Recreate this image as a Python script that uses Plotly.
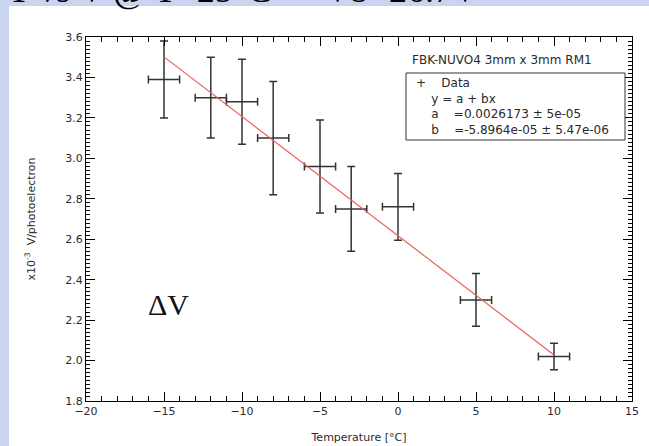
import plotly.graph_objects as go

# ---- data (y in units of 1e-3 V/photoelectron) ----
temperature = [-15, -12, -10, -8, -5, -3, 0, 5, 10]
gain = [3.39, 3.30, 3.28, 3.10, 2.96, 2.75, 2.76, 2.30, 2.02]
temp_err = [1, 1, 1, 1, 1, 1, 1, 1, 1]
gain_err = [0.19, 0.20, 0.21, 0.28, 0.23, 0.21, 0.165, 0.13, 0.065]
fit_a = 2.6173      # x1e-3
fit_b = -0.058964   # x1e-3 per degC
fit_range = [-15, 10]

legend_title = "FBK-NUVO4 3mm x 3mm RM1"
legend_rows = [("+", "Data"), ("", "y = a + bx"), ("", "a\u00a0\u00a0\u00a0\u00a0=0.0026173 \u00b1 5e-05"),
               ("", "b\u00a0\u00a0\u00a0\u00a0=-5.8964e-05 \u00b1 5.47e-06")]

W, H = 649, 446
L, R, T, B = 86, 17, 37, 45
pw, ph = W - L - R, H - T - B

def px(x):  # pixel -> paper x
    return (x - L) / pw

def py(y):  # pixel (from top) -> paper y
    return (H - B - y) / ph

fig = go.Figure()

fig.add_trace(go.Scatter(
    x=temperature, y=gain, mode="markers",
    marker=dict(size=1, color="rgba(0,0,0,0)"),
    error_x=dict(type="data", array=temp_err, color="#333333", thickness=1.5, width=4),
    error_y=dict(type="data", array=gain_err, color="#333333", thickness=1.5, width=4),
    showlegend=False, hoverinfo="skip"))

fit_y = [fit_a + fit_b * t for t in fit_range]
fig.add_trace(go.Scatter(x=fit_range, y=fit_y, mode="lines",
                         line=dict(color="#e8605c", width=1.2),
                         showlegend=False, hoverinfo="skip"))

font_sans = "DejaVu Sans"
txt_col = "#2a2a2a"
axis_common = dict(showline=True, linecolor="black", linewidth=1, mirror="allticks",
                   ticks="inside", tickcolor="black", ticklen=9, tickwidth=1,
                   showgrid=False, zeroline=False, automargin=False,
                   tickfont=dict(family=font_sans, size=11, color=txt_col))

fig.update_xaxes(range=[-20, 15], dtick=5, tick0=-20,
                 minor=dict(ticks="inside", dtick=1, ticklen=5, tickcolor="black", showgrid=False),
                 title=dict(text="Temperature [\u00b0C]", font=dict(family=font_sans, size=11, color=txt_col),
                            standoff=16),
                 **axis_common)
fig.update_yaxes(range=[1.8, 3.6], dtick=0.2, tick0=1.8, tickformat=".1f",
                 minor=dict(ticks="inside", dtick=0.02, ticklen=4, tickcolor="black", showgrid=False),
                 title=dict(text="x10<sup>-3</sup>  V/photoelectron",
                            font=dict(family=font_sans, size=11, color=txt_col), standoff=27),
                 **axis_common)

shapes = [
    # white slide panel
    dict(type="rect", xref="paper", yref="paper", x0=px(9), x1=px(W + 5), y0=py(6), y1=py(H + 5),
         fillcolor="white", line=dict(width=0), layer="below"),
    # legend box
    dict(type="rect", xref="paper", yref="paper", x0=px(406), x1=px(625), y0=py(73), y1=py(140),
         fillcolor="white", line=dict(color="#333333", width=1), layer="above"),
]

ann = []
ann.append(dict(text=legend_title, xref="paper", yref="paper", x=px(410), y=py(60),
                xanchor="left", yanchor="middle", showarrow=False,
                font=dict(family=font_sans, size=12, color=txt_col)))
sym, first = legend_rows[0]
body = (sym + "\u00a0\u00a0\u00a0\u00a0" + first + "<br>" +
        "<br>".join("\u00a0\u00a0\u00a0\u00a0" + r[1] for r in legend_rows[1:]))
ann.append(dict(text=body, xref="paper", yref="paper", x=px(414), y=py(106), xanchor="left",
                yanchor="middle", align="left", showarrow=False,
                font=dict(family=font_sans, size=12, color=txt_col)))
ann.append(dict(text="\u0394V", xref="paper", yref="paper", x=px(146), y=py(304), xanchor="left",
                yanchor="middle", showarrow=False,
                font=dict(family="Liberation Serif", size=30, color="#111111")))
ann.append(dict(text="T vs V @ T=25\u00b0C \u2014 Vb=26.7V", xref="paper", yref="paper", x=px(6), y=py(12),
                xanchor="left", yanchor="bottom", showarrow=False,
                font=dict(family="Liberation Serif", size=36, color="#000000")))

fig.update_layout(width=W, height=H, margin=dict(l=L, r=R, t=T, b=B),
                  paper_bgcolor="#c9d5ee", plot_bgcolor="white",
                  shapes=shapes, annotations=ann, showlegend=False)

fig.write_html("out.html")
